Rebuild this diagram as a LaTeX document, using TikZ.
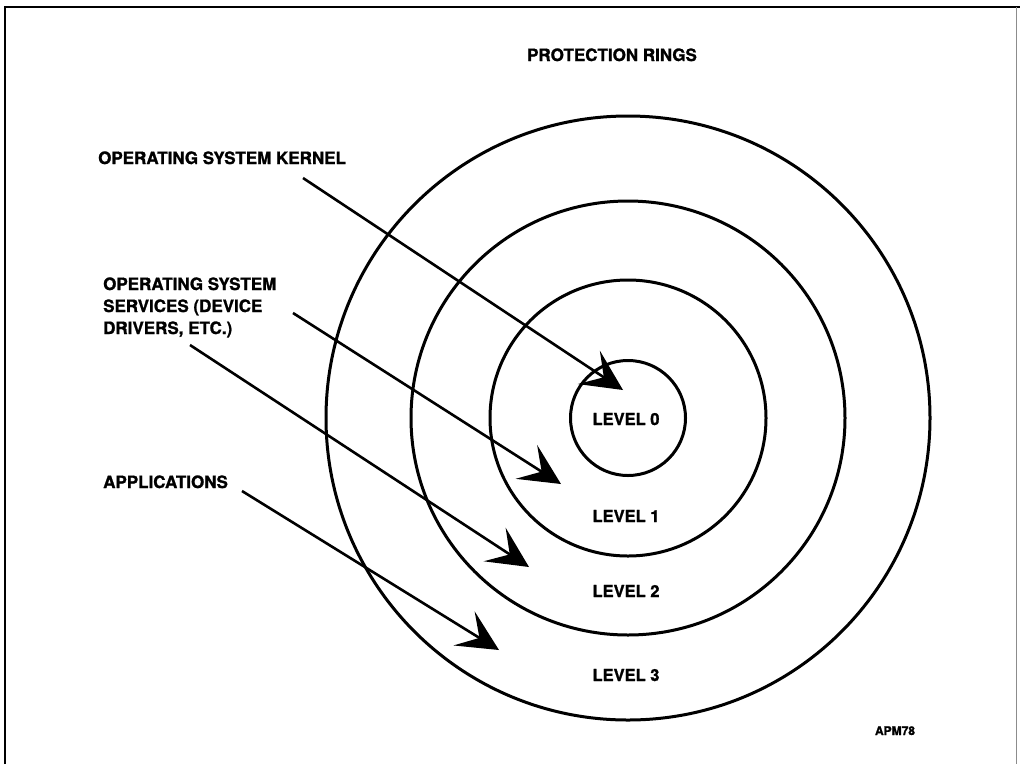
\documentclass[tikz,border=0pt]{standalone}
\usepackage{fontspec}
\setmainfont{TeX Gyre Heros}[BoldFeatures={FakeBold=1.3}]
\usetikzlibrary{arrows.meta}
\begin{document}
\begin{tikzpicture}[x=1pt,y=-1pt,
  ring/.style={draw, circle, line width=3pt, inner sep=0pt},
  lab/.style={font=\fontsize{17}{22}\selectfont\bfseries, inner sep=0pt, align=left},
  lvl/.style={font=\fontsize{16.5}{20}\selectfont\bfseries, inner sep=0pt},
  pointer/.style={line width=2.6pt, -{Stealth[length=41pt,width=40pt,inset=18pt]}}]
\useasboundingbox (0,0) rectangle (1020,764);
% frame
\draw[line width=1.6pt] (5,764) -- (5,7) -- (1020,7);
\draw[line width=0.8pt, black!45] (1016,7) -- (1016,764);
% rings
\coordinate (ctr) at (628,418);
\node[ring, minimum size=604pt] (ring3) at (ctr) {};
\node[ring, minimum size=434pt] (ring2) at (ctr) {};
\node[ring, minimum size=276pt] (ring1) at (ctr) {};
\node[ring, minimum size=115pt] (ring0) at (ctr) {};
% labels
\node[lab, anchor=base] (title) at (612,61) {PROTECTION RINGS};
\node[lab, anchor=base west] (kernel) at (98,164) {OPERATING SYSTEM KERNEL};
\node[lab, anchor=base west] (services) at (103,334) {OPERATING SYSTEM\\SERVICES (DEVICE\\DRIVERS, ETC.)};
\node[lab, anchor=base west] (apps) at (103,488) {APPLICATIONS};
\node[lvl, anchor=base] (l0) at (626,425) {LEVEL 0};
\node[lvl, anchor=base] (l1) at (626,522) {LEVEL 1};
\node[lvl, anchor=base] (l2) at (626,597) {LEVEL 2};
\node[lvl, anchor=base] (l3) at (626,681) {LEVEL 3};
\node[font=\fontsize{12}{14}\selectfont\bfseries, inner sep=0pt, anchor=base] (apm) at (895,735) {APM78};
% pointers
\coordinate (k0) at (303,178); \coordinate (k1) at (623,390);
\coordinate (s0) at (293,313); \coordinate (s1) at (561,484);
\coordinate (d0) at (190,345); \coordinate (d1) at (529,567);
\coordinate (a0) at (242,491); \coordinate (a1) at (499,650);
\draw[pointer] (k0) -- (k1);
\draw[pointer] (s0) -- (s1);
\draw[pointer] (d0) -- (d1);
\draw[pointer] (a0) -- (a1);
\end{tikzpicture}
\end{document}
